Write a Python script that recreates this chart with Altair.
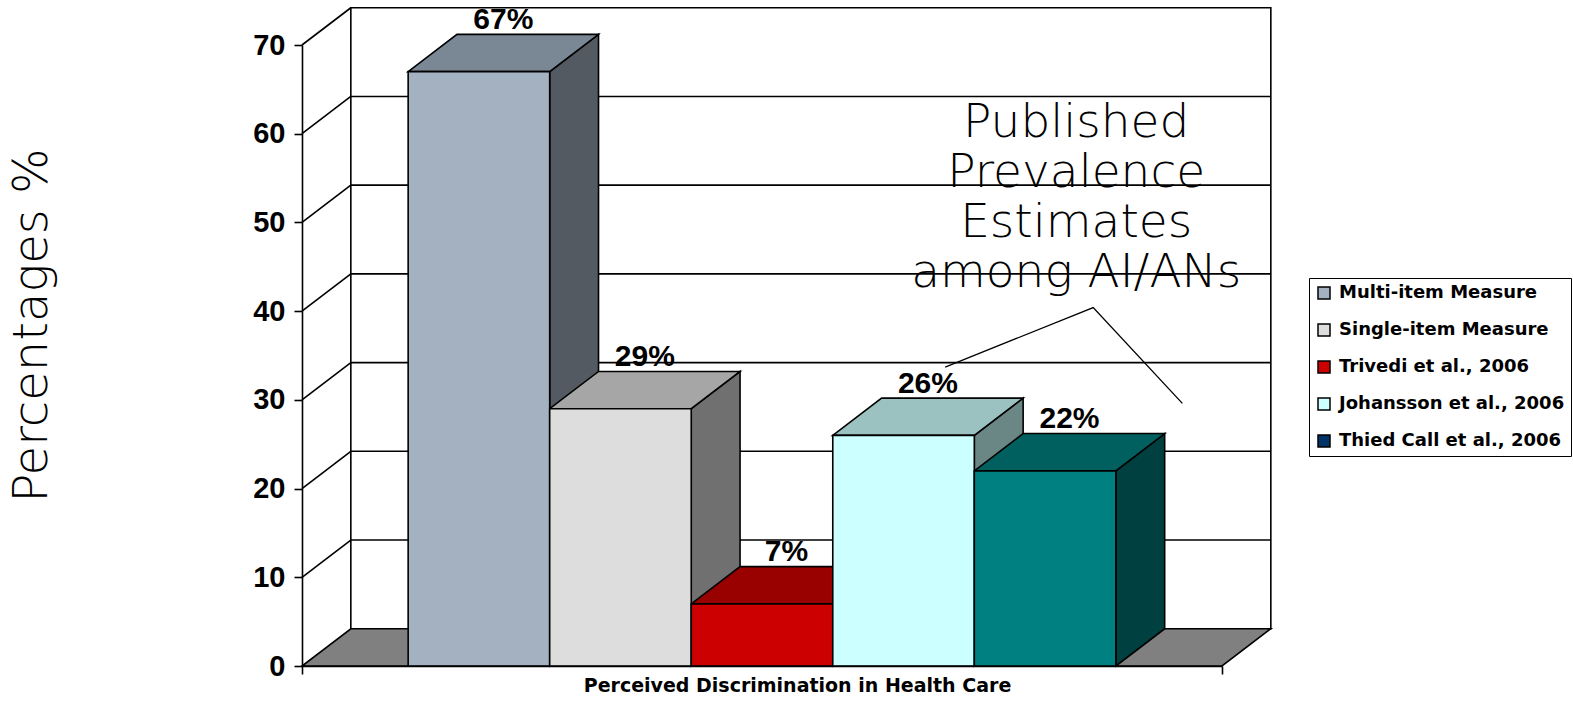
import altair as alt
import pandas as pd

# ---- data -------------------------------------------------------------
categories = [
    "Multi-item Measure",
    "Single-item Measure",
    "Trivedi et al., 2006",
    "Johansson et al., 2006",
    "Thied Call et al., 2006",
]
values = [67, 29, 7, 26, 22]
value_labels = ["67%", "29%", "7%", "26%", "22%"]
y_ticks = [0, 10, 20, 30, 40, 50, 60, 70]

# ---- palettes (front / top / side shading of each box, legend swatches) --
front_colors = ["#A3B1C0", "#DDDDDD", "#CC0000", "#CCFFFF", "#008080"]
top_colors = ["#7A8794", "#A6A6A6", "#990000", "#9BC2C0", "#006060"]
side_colors = ["#535A62", "#707070", "#660000", "#6A8785", "#004040"]
legend_colors = ["#A3B1C0", "#DDDDDD", "#CC0000", "#CCFFFF", "#003366"]

# ---- 3-D geometry in data units ---------------------------------------
X_MAX = 6.5        # floor width along the category axis
BAR_START = 0.75   # gap before the first box
BAR_W = 1.0        # width of each box
DX = 0.345         # depth offset along x
DV = 4.2           # depth offset along y (value units)
Y_MAX = 70
LINE = 1.6

xs = alt.Scale(domain=[0, X_MAX], nice=False, zero=False)
ys = alt.Scale(domain=[0, Y_MAX], nice=False, zero=True)

x_axis = alt.Axis(
    values=[0, X_MAX], labels=False, tickSize=8, tickColor="black", tickWidth=LINE,
    domainColor="black", domainWidth=LINE, grid=False, zindex=1,
    title="Perceived Discrimination in Health Care",
    titleFont="DejaVu Sans", titleFontWeight="bold", titleFontSize=19,
    titleColor="black", titleX=495, titleY=25, titleAlign="center",
    titleBaseline="alphabetic",
)
y_axis = alt.Axis(
    values=y_ticks, tickSize=8, tickColor="black", tickWidth=LINE,
    domainColor="black", domainWidth=LINE, grid=False, zindex=1,
    labelFont="Liberation Sans", labelFontWeight="bold", labelFontSize=29,
    labelColor="black", labelPadding=9,
    title="Percentages %", titleFont="DejaVu Sans", titleFontWeight=200,
    titleFontSize=48, titleColor="black", titleAngle=270, titleX=-270,
    titleY=280, titleAlign="center", titleBaseline="middle",
)


def X(field):
    return alt.X(field, scale=xs, axis=x_axis)


def Y(field):
    return alt.Y(field, scale=ys, axis=y_axis)


front_rows, top_rows, side_rows, label_rows = [], [], [], []
for i, (cat, v, lab) in enumerate(zip(categories, values, value_labels)):
    x0 = BAR_START + i * BAR_W
    x1 = x0 + BAR_W
    front_rows.append(dict(cat=cat, x=x0, x2=x1, y=0, y2=v, fill=front_colors[i]))
    for xx, lo, hi in [(x0, v, v), (x0 + DX, v, v + DV), (x1, v, v + DV), (x1 + DX, v + DV, v + DV)]:
        top_rows.append(dict(cat=cat, x=xx, lo=lo, hi=hi, fill=top_colors[i]))
    for xx, lo, hi in [(x1, 0, v), (x1 + DX, DV, v + DV)]:
        side_rows.append(dict(cat=cat, x=xx, lo=lo, hi=hi, fill=side_colors[i]))
    label_rows.append(dict(label=lab, x=(x0 + x1) / 2 + DX / 2, y=v + DV + 0.6))

front_df = pd.DataFrame(front_rows)
top_df = pd.DataFrame(top_rows)
side_df = pd.DataFrame(side_rows)
label_df = pd.DataFrame(label_rows)

wall_df = pd.DataFrame([dict(x=DX, x2=X_MAX + DX, y=DV, y2=Y_MAX + DV)])
back_grid_df = pd.DataFrame(
    [dict(x=DX, x2=X_MAX + DX, y=g + DV) for g in y_ticks if 0 < g < Y_MAX]
)
side_grid_df = pd.DataFrame(
    [dict(x=0, x2=DX, y=g, y2=g + DV) for g in y_ticks if g > 0]
)
floor_df = pd.DataFrame([
    dict(x=0, lo=0, hi=0),
    dict(x=DX, lo=0, hi=DV),
    dict(x=X_MAX, lo=0, hi=DV),
    dict(x=X_MAX + DX, lo=DV, hi=DV),
])

wall = alt.Chart(wall_df).mark_rect(fill="white", stroke="black", strokeWidth=LINE).encode(
    x=X("x:Q"), x2="x2:Q", y=Y("y:Q"), y2="y2:Q",
)
back_grid = alt.Chart(back_grid_df).mark_rule(color="black", strokeWidth=LINE).encode(
    x=X("x:Q"), x2="x2:Q", y=Y("y:Q"),
)
side_grid = alt.Chart(side_grid_df).mark_rule(color="black", strokeWidth=LINE).encode(
    x=X("x:Q"), x2="x2:Q", y=Y("y:Q"), y2="y2:Q",
)
floor = alt.Chart(floor_df).mark_area(fill="#808080", stroke="black", strokeWidth=LINE).encode(
    x=X("x:Q"), y=Y("lo:Q"), y2="hi:Q",
)

sides = alt.Chart(side_df).mark_area(stroke="black", strokeWidth=LINE).encode(
    x=X("x:Q"), y=Y("lo:Q"), y2="hi:Q",
    fill=alt.Fill("fill:N", scale=None), detail="cat:N",
)
tops = alt.Chart(top_df).mark_area(stroke="black", strokeWidth=LINE).encode(
    x=X("x:Q"), y=Y("lo:Q"), y2="hi:Q",
    fill=alt.Fill("fill:N", scale=None), detail="cat:N",
)
fronts = alt.Chart(front_df).mark_rect(stroke="black", strokeWidth=LINE).encode(
    x=X("x:Q"), x2="x2:Q", y=Y("y:Q"), y2="y2:Q",
    fill=alt.Fill("fill:N", scale=None),
)

labels = alt.Chart(label_df).mark_text(
    font="Liberation Sans", fontWeight="bold", fontSize=30, color="black",
    align="center", baseline="alphabetic",
).encode(x=X("x:Q"), y=Y("y:Q"), text="label:N")

# annotation for the published estimates
note_df = pd.DataFrame([dict(x=5.47, y=59.6, text="Published\nPrevalence\nEstimates\namong AI/ANs")])
note = alt.Chart(note_df).mark_text(
    font="DejaVu Sans", fontWeight=200, fontSize=47, lineHeight=50, color="black",
    align="center", baseline="alphabetic", lineBreak="\n",
).encode(x=X("x:Q"), y=Y("y:Q"), text="text:N")

leader_df = pd.DataFrame([
    dict(x=4.544, y=33.7, k=0),
    dict(x=5.59, y=40.4, k=1),
    dict(x=6.22, y=29.6, k=2),
])
leader = alt.Chart(leader_df).mark_line(color="black", strokeWidth=1.3).encode(
    x=X("x:Q"), y=Y("y:Q"), order="k:Q",
)

legend_df = pd.DataFrame(dict(cat=categories, x=[1.0] * 5, y=[1.0] * 5))
legend_layer = alt.Chart(legend_df).mark_point(shape="square", filled=True, opacity=0).encode(
    x=X("x:Q"), y=Y("y:Q"),
    color=alt.Color(
        "cat:N",
        scale=alt.Scale(domain=categories, range=legend_colors),
        legend=alt.Legend(
            title=None, orient="none", legendX=1007, legendY=233, direction="vertical",
            symbolType="square", symbolSize=144, symbolStrokeColor="black",
            symbolStrokeWidth=1.5, symbolOpacity=1,
            labelFont="DejaVu Sans", labelFontWeight="bold", labelFontSize=18,
            labelColor="black", labelOffset=6, labelLimit=0,
            rowPadding=19, padding=6, strokeColor="black", fillColor="white",
        ),
    ),
)

chart = alt.layer(
    wall, back_grid, side_grid, floor, sides, tops, fronts, labels, note, leader, legend_layer
).properties(
    width=920, height=621,
    autosize=alt.AutoSizeParams(type="none"),
    padding={"left": 302, "top": 45, "right": 351, "bottom": 42},
    background="white",
).configure_view(stroke=None)

chart.save("out.html", embed_options={"renderer": "svg", "actions": False})
